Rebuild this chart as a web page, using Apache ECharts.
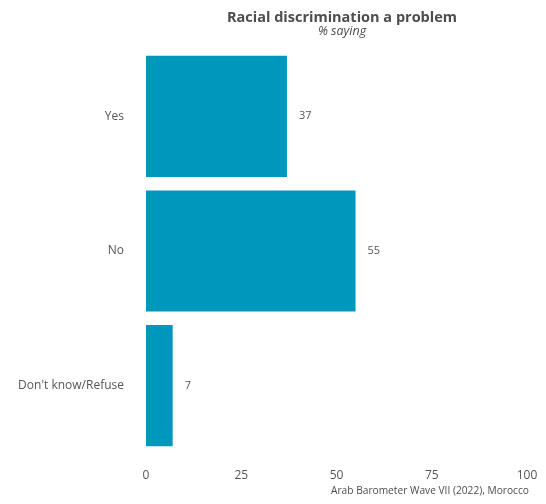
<!DOCTYPE html>
<html><head><meta charset="utf-8">
<script src="https://cdn.jsdelivr.net/npm/echarts@6/dist/echarts.min.js"></script>
<style>html,body{margin:0;padding:0;background:#fff}#c{width:546px;height:504px}</style>
</head><body><div id="c"></div>
<script>
var categories = ["Yes", "No", "Don't know/Refuse"];
var values = [37, 55, 7];
var xTicks = [0, 25, 50, 75, 100];
var titleText = "Racial discrimination a problem";
var subtitleText = "% saying";
var captionText = "Arab Barometer Wave VII (2022), Morocco";

var FONT = "'Open Sans', Lato, sans-serif";
var chart = echarts.init(document.getElementById('c'));
chart.setOption({
  backgroundColor: '#fff',
  animation: false,
  title: [{
    text: titleText,
    subtext: subtitleText,
    left: 337, top: 5, textAlign: 'center',
    itemGap: 0,
    textStyle: {fontFamily: FONT, fontSize: 14.5, fontWeight: 'bold', color: '#4d4d4d'},
    subtextStyle: {fontFamily: FONT, fontSize: 12.5, fontStyle: 'italic', color: '#4d4d4d'}
  }, {
    text: captionText,
    right: 12, bottom: 3,
    textStyle: {fontFamily: FONT, fontSize: 10.2, fontWeight: 'normal', color: '#4d4d4d'}
  }],
  grid: {left: 146, right: 19, top: 49, bottom: 51, containLabel: false},
  xAxis: {
    type: 'value', min: 0, max: 100, interval: 25,
    axisLine: {show: false}, axisTick: {show: false}, splitLine: {show: false},
    axisLabel: {fontFamily: FONT, fontSize: 12, color: '#555555', margin: 17,
      formatter: function(v){ return xTicks.indexOf(v) >= 0 ? String(v) : ''; }}
  },
  yAxis: {
    type: 'category', data: categories, inverse: true,
    axisLine: {show: false}, axisTick: {show: false}, splitLine: {show: false},
    axisLabel: {fontFamily: FONT, fontSize: 12, color: '#555555', margin: 22}
  },
  series: [{
    type: 'bar', data: values, barCategoryGap: '10%',
    itemStyle: {color: '#0097BD'},
    label: {show: true, position: 'right', distance: 12, fontFamily: FONT, fontSize: 11, color: '#555555'}
  }]
});
</script></body></html>
